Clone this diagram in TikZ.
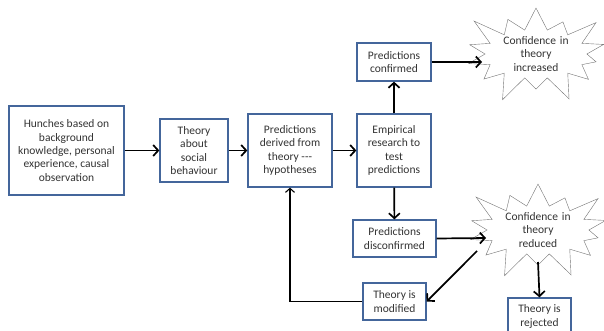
\documentclass[tikz,border=0pt]{standalone}
\usepackage{fontspec}
\setmainfont{Carlito}
\usepackage{xcolor}
\usetikzlibrary{shapes,shapes.symbols,arrows,arrows.meta,positioning}
\definecolor{boxblue}{RGB}{68,102,155}
\tikzset{
  box/.style={draw=boxblue, line width=1.3pt, fill=white, align=center, text=black!80, inner sep=1pt, font=\fontsize{11.5}{13.3}\selectfont},
  burst/.style={starburst, starburst points=14, starburst point height=30pt, draw=black!55, fill=white, align=center, text=black!80, inner sep=0pt, font=\fontsize{11.5}{13.3}\selectfont},
  link/.style={-{Straight Barb[length=5pt,width=11pt]}, line width=1.7pt},
  back/.style={-{Straight Barb[length=4pt,width=9pt]}, line width=1.1pt}
}
\begin{document}
\begin{tikzpicture}[x=1pt, y=-1pt]
\useasboundingbox (0,0) rectangle (604,331);
% boxes
\node[box, minimum width=115pt, minimum height=89pt] (hunch) at (66.5,150.5) {Hunches based on\\background\\knowledge, personal\\experience, causal\\observation};
\node[box, minimum width=68pt, minimum height=63pt] (theory) at (194,150.5) {Theory\\about\\social\\behaviour};
\node[box, minimum width=84pt, minimum height=73pt] (pred) at (290,150.5) {Predictions\\derived from\\theory -{}-{}-\\hypotheses};
\node[box, minimum width=74pt, minimum height=73pt] (emp) at (394,150.5) {Empirical\\research to\\test\\predictions};
\node[box, minimum width=74pt, minimum height=38pt] (conf) at (394,62) {Predictions\\confirmed};
\node[box, minimum width=83pt, minimum height=37pt] (disc) at (394.5,238.5) {Predictions\\disconfirmed};
\node[box, minimum width=63pt, minimum height=37pt] (mod) at (394.5,301.5) {Theory is\\modified};
\node[box, minimum width=63pt, minimum height=37pt] (rej) at (539.5,316.5) {Theory is\\rejected};
% stars
\node[burst, text width=72pt] (inc) at (536,54) {Confidence in\\theory\\increased};
\node[burst, text width=72pt] (red) at (538,230) {Confidence in\\theory\\reduced};
\coordinate (incin) at (482,62);
\coordinate (redin) at (486,238);
\coordinate (redout) at (477,251);
\coordinate (redbot) at (538,262);
% arrows
\draw[link] (hunch) -- (theory);
\draw[link] (theory) -- (pred);
\draw[link] (pred) -- (emp);
\draw[link] (emp) -- (conf);
\draw[link] (emp) -- (disc);
\draw[link] (conf.east) -- (incin);
\draw[link] (disc.east) -- (redin);
\draw[link] (redout) -- (mod.east);
\draw[link] (redbot) -- (rej.north);
\draw[back] (mod.west) -| (pred.south);
\end{tikzpicture}
\end{document}
